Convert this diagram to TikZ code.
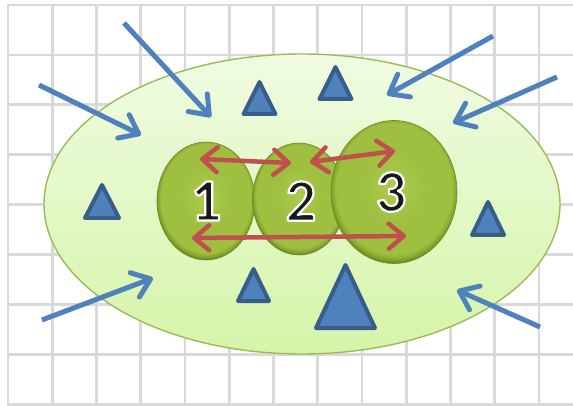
\documentclass[tikz,border=0pt]{standalone}
\usepackage{fontspec}
\setmainfont{Carlito}
\usetikzlibrary{shapes.geometric,arrows.meta}
\definecolor{gridgray}{HTML}{D9D9D9}
\definecolor{cellrim}{HTML}{9BBB59}
\definecolor{celltop}{HTML}{F0FBE3}
\definecolor{cellbot}{HTML}{D5F5A8}
\definecolor{inblue}{HTML}{4F81BD}
\definecolor{triedge}{HTML}{385D8A}
\definecolor{swapred}{HTML}{C0504D}
\definecolor{blobmid}{HTML}{9EBF3F}
\definecolor{blobhi}{HTML}{ACCC50}
\definecolor{blobrim}{HTML}{6E8A22}
\pgfdeclareradialshading{blobshade}{\pgfpoint{0bp}{2bp}}{color(0bp)=(blobhi); color(13bp)=(blobmid); color(23bp)=(blobmid); color(24.8bp)=(blobrim!55!blobmid); color(25.5bp)=(blobrim); color(50bp)=(blobrim)}
\newcommand\haloed[1]{%
    \special{pdf:literal direct 2 Tr 1 1 1 RG 2.2 w 1 j}#1\special{pdf:literal direct 0 Tr}}
\begin{document}
\begin{tikzpicture}[x=1pt,y=-1pt,
        gridline/.style={draw=gridgray,line width=2.6pt},
        cellbody/.style={ellipse,draw=cellrim,line width=1.4pt,top color=celltop,bottom color=cellbot,inner sep=0pt},
        blob/.style={ellipse,shade,shading=blobshade,draw=blobrim,line width=0.6pt,inner sep=0pt},
        digit/.style={font=\fontsize{60}{60}\selectfont\bfseries,inner sep=0pt,text=black!90},
        inarrow/.style={draw=inblue,line width=5pt,-{Straight Barb[length=17pt,width=26pt,round]}},
        swaparrow/.style={draw=swapred,line width=4.5pt,{Straight Barb[length=15pt,width=25pt,round]}-{Straight Barb[length=15pt,width=25pt,round]}},
        tri/.style={fill=inblue,draw=triedge,line width=4pt,line join=round}]
            \fill[white] (0,0) rectangle (573,406);
            \useasboundingbox (0,0) rectangle (573,406);

            \foreach \i in {0,...,12}
                {
                    \draw[gridline] ({8+44.25*\i},4) -- ({8+44.25*\i},406);
                }
            \foreach \j in {0,...,8}
                {
                    \draw[gridline] (7,{5+49.9*\j}) -- (573,{5+49.9*\j});
                }

            \node at (302,204)[cellbody,minimum width=516pt,minimum height=300pt] (cell) {};

            \foreach \i/\s/\t in {1/{124,23}/{211,117}, 2/{39,85}/{141,135}, 3/{493,36}/{387,95},
                                  4/{557,77}/{453,123}, 5/{42,320}/{153,278}, 6/{540,327}/{457,290}}
                {
                    \coordinate (s\i) at (\s);
                    \coordinate (t\i) at (\t);
                    \draw[inarrow] (s\i) -- (t\i);
                }

            \foreach \x/\y/\w/\h in {259.5/82/16/32, 335.5/67/16/32, 102/185/17/33,
                                     488/202/16/33, 253.5/269/15.5/32, 345.5/265/29.5/63}
                {
                    \draw[tri] (\x,\y) -- ++(-\w,\h) -- ++({2*\w},0) -- cycle;
                }

            \node at (206,201)[blob,minimum width=98pt,minimum height=118pt] (b1) {};
            \node at (299,199)[blob,minimum width=93pt,minimum height=112pt] (b2) {};
            \node at (394,192)[blob,minimum width=126pt,minimum height=143pt] (b3) {};

            \coordinate (p1) at (200,159);
            \coordinate (p2) at (291,163);
            \coordinate (p3) at (310,162);
            \coordinate (p4) at (395,151);
            \coordinate (p5) at (192,238);
            \coordinate (p6) at (406,236);
            \draw[swaparrow] (p1) -- (p2);
            \draw[swaparrow] (p3) -- (p4);
            \draw[swaparrow] (p5) -- (p6);

            \foreach \n/\p in {1/{206,201}, 2/{301,201}, 3/{391,192}}
                {
                    \node at (\p)[digit] (n\n) {\haloed{\n}};
                }
        \end{tikzpicture}
\end{document}
